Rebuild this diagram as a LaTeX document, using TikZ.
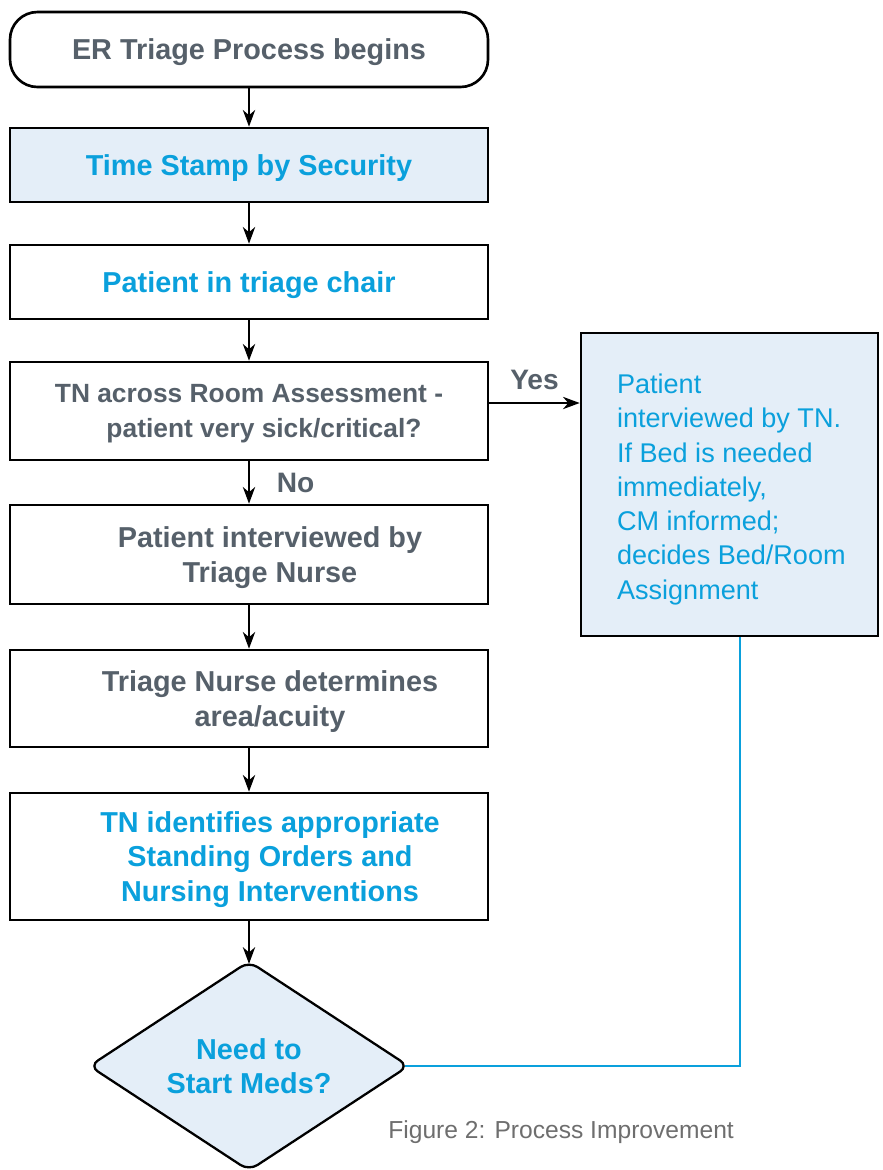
\documentclass[tikz,border=0pt]{standalone}
\usepackage{fontspec}
\setmainfont{Liberation Sans}
\usepackage{xcolor}
\usetikzlibrary{positioning,shapes.geometric,arrows.meta}

\definecolor{slate}{HTML}{56606A}
\definecolor{triblue}{HTML}{0AA0DC}
\definecolor{paleblue}{HTML}{E4EEF8}
\definecolor{capgrey}{HTML}{6E6E6E}
\newcommand{\nudge}{\hspace*{0.84cm}}

\begin{document}
\begin{tikzpicture}[
  box/.style={draw=black,line width=1.5pt,minimum width=9.56cm,align=center,inner sep=0pt,text depth=0pt},
  greytext/.style={text=slate,font=\fontsize{16.4}{19.7}\selectfont\bfseries},
  bluetext/.style={text=triblue,font=\fontsize{16.4}{19.7}\selectfont\bfseries},
  flow/.style={line width=1.1pt,-{Stealth[length=9.5pt,width=7pt,inset=3pt]}},
  link/.style={draw=triblue,line width=1.3pt},
  lbl/.style={text=slate,font=\fontsize{16}{19}\selectfont\bfseries}]
\useasboundingbox (0,0) rectangle (17.66,-23.4);
% main column
\node[box,greytext,rounded corners=0.55cm,minimum height=1.5cm] (start) at (4.98,-0.99) {ER Triage Process begins};
\node[box,bluetext,fill=paleblue,minimum height=1.48cm] (stamp) at (4.98,-3.30) {Time Stamp by Security};
\node[box,bluetext,minimum height=1.48cm] (chair) at (4.98,-5.64) {Patient in triage chair};
\node[box,greytext,font=\fontsize{15}{19.7}\selectfont\bfseries,minimum height=1.96cm] (room) at (4.98,-8.22)
  {TN across Room Assessment -\\\hspace*{0.6cm}patient very sick/critical?};
\node[box,greytext,minimum height=1.98cm] (interview) at (4.98,-11.09) {\nudge Patient interviewed by\\\nudge Triage Nurse};
\node[box,greytext,minimum height=1.94cm] (nurse) at (4.98,-13.97) {\nudge Triage Nurse determines\\\nudge area/acuity};
\node[box,bluetext,minimum height=2.54cm] (orders) at (4.98,-17.13)
  {\nudge TN identifies appropriate\\\nudge Standing Orders and\\\nudge Nursing Interventions};
\node[draw=black,line width=1.3pt,shape=diamond,aspect=1.5,fill=paleblue,rounded corners=0.2cm,
  minimum width=6.4cm,minimum height=4.2cm,inner sep=0pt,bluetext,align=center] (meds) at (4.98,-21.32) {Need to\\Start Meds?};
% side box
\node[draw=black,line width=1.5pt,fill=paleblue,minimum width=5.94cm,minimum height=6.06cm] (side) at (14.59,-9.69) {};
\node[anchor=north west,align=left,text=triblue,font=\fontsize{15.4}{19.5}\selectfont,inner sep=0pt] (sidetext)
  at ([xshift=0.74cm,yshift=-0.84cm]side.north west)
  {Patient\\interviewed by TN.\\If Bed is needed\\immediately,\\CM informed;\\decides Bed/Room\\Assignment};
% caption
\node[anchor=base west,text=capgrey,font=\fontsize{14}{17}\selectfont,inner sep=0pt] (caption) at (7.76,-22.76) {Figure 2: Process Improvement};
% connectors
\draw[flow] (start) -- (stamp);
\draw[flow] (stamp) -- (chair);
\draw[flow] (chair) -- (room);
\draw[flow] (room) -- node[lbl,right=0.42cm] (no) {No} (interview);
\draw[flow] (interview) -- (nurse);
\draw[flow] (nurse) -- (orders);
\draw[flow] (orders) -- ([yshift=-0.08cm]meds.north);
\coordinate (yesfrom) at ([yshift=0.16cm]room.east);
\draw[flow] (yesfrom) -- node[lbl,above=0.12cm] (yes) {Yes} (yesfrom -| side.west);
\draw[link] ([xshift=-0.1cm]meds.east) -| ([xshift=0.21cm]side.south);
\end{tikzpicture}
\end{document}
